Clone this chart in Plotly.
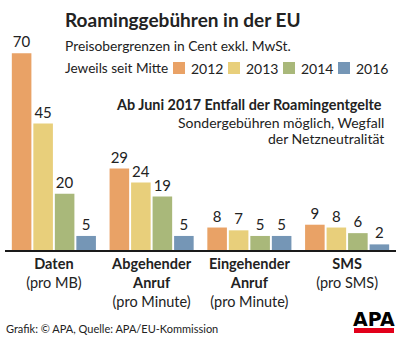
import plotly.graph_objects as go

categories = ["Daten", "Abgehender Anruf", "Eingehender Anruf", "SMS"]
tick_labels = [
    "<b>Daten</b><br>(pro MB)",
    "<b>Abgehender</b><br><b>Anruf</b><br>(pro Minute)",
    "<b>Eingehender</b><br><b>Anruf</b><br>(pro Minute)",
    "<b>SMS</b><br>(pro SMS)",
]
years = ["2012", "2013", "2014", "2016"]
v2012 = [70, 29, 8, 9]
v2013 = [45, 24, 7, 8]
v2014 = [20, 19, 5, 6]
v2016 = [5, 5, 5, 2]
series = [v2012, v2013, v2014, v2016]
colors = ["#E9A266", "#E8CF7B", "#A9B87A", "#7596B6"]

W, H = 400, 341
FONT = "Lato"
TXT = "#222222"

def px(x):
    return x / W

def py(y):
    return 1 - y / H

fig = go.Figure()
for name, vals, col in zip(years, series, colors):
    fig.add_trace(go.Bar(
        x=categories, y=vals, name=name, marker_color=col, marker_line_width=0,
        text=[str(v) for v in vals], textposition="outside", cliponaxis=False,
        textfont=dict(family=FONT, size=15, color=TXT), showlegend=False,
    ))

# plot area: x 5..396, baseline y=250, top y=40
fig.update_layout(
    width=W, height=H,
    margin=dict(l=0, r=0, t=0, b=0),
    paper_bgcolor="white", plot_bgcolor="white",
    barmode="group", bargap=0.12, bargroupgap=0.09,
    font=dict(family=FONT, color=TXT),
    xaxis=dict(domain=[px(5), px(396)], tickmode="array", tickvals=categories,
               ticktext=tick_labels, showline=True, linecolor="#1a1a1a", linewidth=2,
               ticks="", tickfont=dict(family=FONT, size=14.5, color=TXT),
               range=[-0.5, 3.5], fixedrange=True),
    yaxis=dict(domain=[py(250), py(40)], range=[0, 210 / 2.81], visible=False,
               showgrid=False, zeroline=False, fixedrange=True),
)

ann = []
ann.append(dict(text="<b>Roaminggebühren in der EU</b>", x=px(63), y=py(20),
                xanchor="left", yanchor="middle", font=dict(size=19, family=FONT, color=TXT)))
ann.append(dict(text="Preisobergrenzen in Cent exkl. MwSt.", x=px(63), y=py(45),
                xanchor="left", yanchor="middle", font=dict(size=13.8, family=FONT, color=TXT)))
ann.append(dict(text="Jeweils seit Mitte", x=px(63), y=py(68),
                xanchor="left", yanchor="middle", font=dict(size=13.6, family=FONT, color=TXT)))
shapes = []
leg_x = [173, 228, 283, 338]
for lx, name, col in zip(leg_x, years, colors):
    shapes.append(dict(type="rect", xref="paper", yref="paper", x0=px(lx), x1=px(lx + 12),
                       y0=py(74), y1=py(62), fillcolor=col, line_width=0))
    ann.append(dict(text=name, x=px(lx + 16), y=py(68), xanchor="left", yanchor="middle",
                    font=dict(size=14, family=FONT, color=TXT)))
ann.append(dict(text="<b>Ab Juni 2017 Entfall der Roamingentgelte</b>", x=px(384), y=py(105),
                xanchor="right", yanchor="middle", font=dict(size=14.4, family=FONT, color=TXT)))
ann.append(dict(text="Sondergebühren möglich, Wegfall", x=px(386), y=py(122),
                xanchor="right", yanchor="middle", font=dict(size=14, family=FONT, color=TXT)))
ann.append(dict(text="der Netzneutralität", x=px(386), y=py(138),
                xanchor="right", yanchor="middle", font=dict(size=14, family=FONT, color=TXT)))
ann.append(dict(text="Grafik: © APA, Quelle: APA/EU-Kommission", x=px(4), y=py(328),
                xanchor="left", yanchor="middle", font=dict(size=11, family=FONT, color=TXT)))
ann.append(dict(text="<b>APA</b>", x=px(374), y=py(319), xanchor="center", yanchor="middle",
                font=dict(size=19, family="DejaVu Sans", color="#000000")))
shapes.append(dict(type="rect", xref="paper", yref="paper", x0=px(354), x1=px(394),
                   y0=py(333), y1=py(328), fillcolor="#E2001A", line_width=0))
for a in ann:
    a.update(xref="paper", yref="paper", showarrow=False)
fig.update_layout(annotations=ann, shapes=shapes)

fig.write_html("out.html")
